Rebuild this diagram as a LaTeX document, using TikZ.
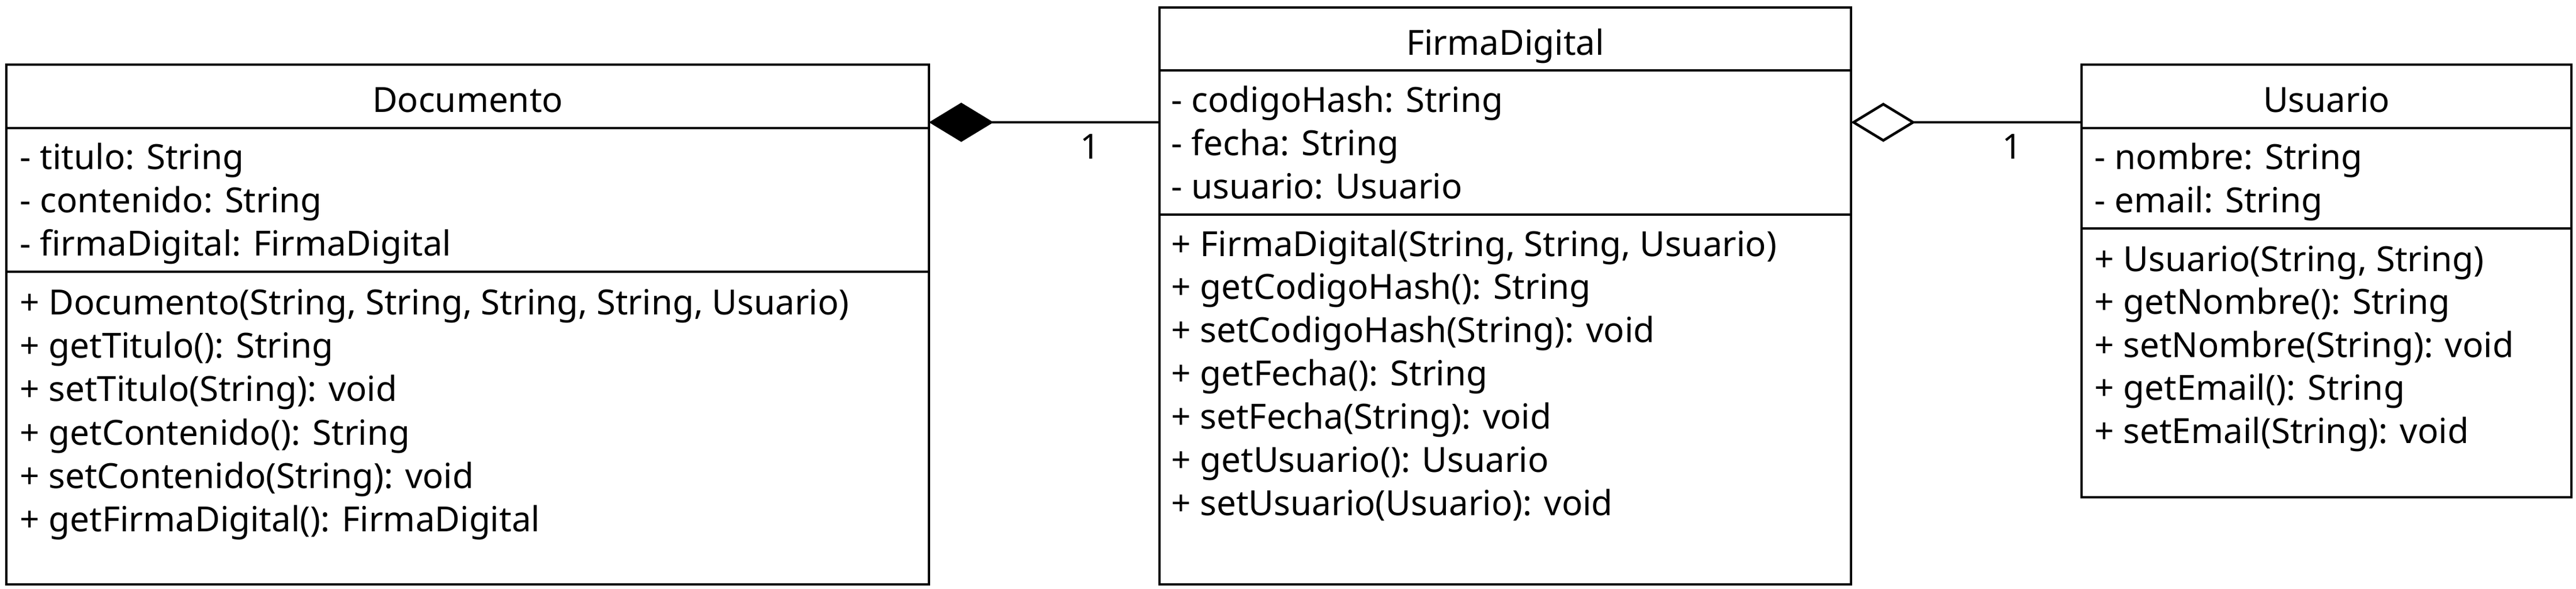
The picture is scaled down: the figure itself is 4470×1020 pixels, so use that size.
\documentclass[tikz,border=0pt]{standalone}
\usepackage{fontspec}
\setmainfont{Noto Sans}
\usetikzlibrary{arrows.meta}
\begin{document}
\begin{tikzpicture}[x=0.25pt,y=-0.25pt,
  every node/.style={font=\fontsize{15pt}{18.75pt}\selectfont},
  umlbox/.style={draw, rectangle, line width=1.125pt, inner sep=0pt, outer sep=0pt},
  divider/.style={line width=1.125pt},
  txt/.style={anchor=base west, inner sep=0pt},
  ttl/.style={anchor=base, inner sep=0pt},
  mult/.style={anchor=base, inner sep=0pt},
  conn/.style={line width=1.125pt},
  comp/.style={conn, -{Diamond[length=28pt, width=17pt]}},
  aggr/.style={conn, -{Diamond[open, length=28pt, width=17pt]}}]
\useasboundingbox (0,0) rectangle (4470,1020);

% ---------------- Documento ----------------
\node[umlbox, minimum width=400.25pt, minimum height=225.25pt] (doc) at (811.5,562.5) {};
\draw[divider] (doc.west |- 0,222) -- (doc.east |- 0,222);
\draw[divider] (doc.west |- 0,471) -- (doc.east |- 0,471);
\node[ttl] (doc-t) at (811.5,194) {Documento};
\node[txt] (doc-a1) at (34,293) {- titulo: String};
\node[txt] (doc-a2) at (34,368) {- contenido: String};
\node[txt] (doc-a3) at (34,443) {- firmaDigital: FirmaDigital};
\node[txt] (doc-m1) at (34,545) {+ Documento(String, String, String, String, Usuario)};
\node[txt] (doc-m2) at (34,620) {+ getTitulo(): String};
\node[txt] (doc-m3) at (34,695) {+ setTitulo(String): void};
\node[txt] (doc-m4) at (34,771) {+ getContenido(): String};
\node[txt] (doc-m5) at (34,846) {+ setContenido(String): void};
\node[txt] (doc-m6) at (34,921) {+ getFirmaDigital(): FirmaDigital};

% ---------------- FirmaDigital ----------------
\node[umlbox, minimum width=300pt, minimum height=250pt] (fd) at (2612,513) {};
\draw[divider] (fd.west |- 0,122) -- (fd.east |- 0,122);
\draw[divider] (fd.west |- 0,372) -- (fd.east |- 0,372);
\node[ttl] (fd-t) at (2612,95) {FirmaDigital};
\node[txt] (fd-a1) at (2032,194) {- codigoHash: String};
\node[txt] (fd-a2) at (2032,269) {- fecha: String};
\node[txt] (fd-a3) at (2032,344) {- usuario: Usuario};
\node[txt] (fd-m1) at (2032,444) {+ FirmaDigital(String, String, Usuario)};
\node[txt] (fd-m2) at (2032,518.5) {+ getCodigoHash(): String};
\node[txt] (fd-m3) at (2032,593) {+ setCodigoHash(String): void};
\node[txt] (fd-m4) at (2032,668) {+ getFecha(): String};
\node[txt] (fd-m5) at (2032,743) {+ setFecha(String): void};
\node[txt] (fd-m6) at (2032,818) {+ getUsuario(): Usuario};
\node[txt] (fd-m7) at (2032,893) {+ setUsuario(Usuario): void};

% ---------------- Usuario ----------------
\node[umlbox, minimum width=212.5pt, minimum height=187.5pt] (us) at (4037,487) {};
\draw[divider] (us.west |- 0,222) -- (us.east |- 0,222);
\draw[divider] (us.west |- 0,396) -- (us.east |- 0,396);
\node[ttl] (us-t) at (4037,194) {Usuario};
\node[txt] (us-a1) at (3634,293) {- nombre: String};
\node[txt] (us-a2) at (3634,368) {- email: String};
\node[txt] (us-m1) at (3634,470) {+ Usuario(String, String)};
\node[txt] (us-m2) at (3634,544.5) {+ getNombre(): String};
\node[txt] (us-m3) at (3634,619) {+ setNombre(String): void};
\node[txt] (us-m4) at (3634,693.5) {+ getEmail(): String};
\node[txt] (us-m5) at (3634,768) {+ setEmail(String): void};

% ---------------- Connectors ----------------
\draw[comp] (fd.west |- 0,212) -- (doc.east |- 0,212);
\node[mult] (m1) at (1892,275) {1};
\draw[aggr] (us.west |- 0,212) -- (fd.east |- 0,212);
\node[mult] (m2) at (3492,275) {1};
\end{tikzpicture}
\end{document}
